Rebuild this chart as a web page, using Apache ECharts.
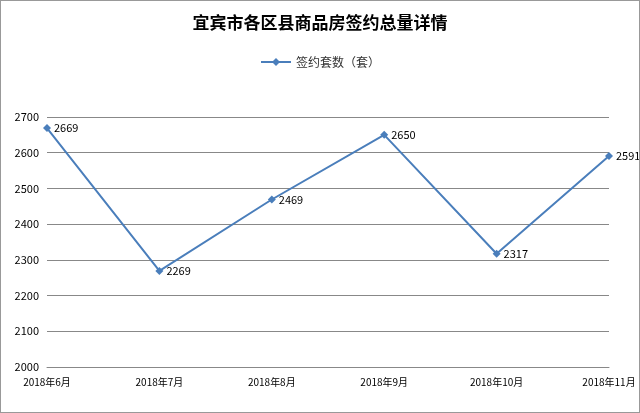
<!DOCTYPE html>
<html><head><meta charset="utf-8">
<script src="https://cdn.jsdelivr.net/npm/echarts@6/dist/echarts.min.js"></script>
<style>html,body{margin:0;padding:0;background:#fff}#c{width:640px;height:413px;box-sizing:border-box;border:1px solid #999}</style>
</head><body><div id="c"></div>
<script>
const categories = ['2018年6月','2018年7月','2018年8月','2018年9月','2018年10月','2018年11月'];
const values = [2669,2269,2469,2650,2317,2591];
const seriesName = '签约套数（套）';
const chart = echarts.init(document.getElementById('c'));
chart.setOption({
  animation:false,
  textStyle:{fontFamily:'Noto Sans CJK SC'},
  title:{text:'宜宾市各区县商品房签约总量详情',left:'center',top:8,textStyle:{fontSize:17,fontWeight:'bold',color:'#000',fontFamily:'Noto Sans CJK SC'}},
  legend:{top:50,left:'center',itemWidth:30,itemHeight:10,textStyle:{fontSize:12,color:'#333'},data:[seriesName]},
  grid:{left:46,right:30,top:116,bottom:45},
  xAxis:{type:'category',data:categories,boundaryGap:false,
    axisLine:{lineStyle:{color:'#888'}},axisTick:{show:false},
    axisLabel:{fontSize:10,color:'#000',margin:10}},
  yAxis:{type:'value',min:2000,max:2700,interval:100,
    axisLine:{show:false},axisTick:{show:false},
    axisLabel:{fontSize:11,color:'#000',formatter:v=>String(v)},
    splitLine:{lineStyle:{color:'#888'}}},
  series:[{name:seriesName,type:'line',data:values,symbol:'diamond',symbolSize:8,
    lineStyle:{color:'#4a7ebb',width:2},itemStyle:{color:'#4a7ebb'},
    label:{show:true,position:'right',fontSize:11,color:'#000',distance:3}}]
});
</script></body></html>
